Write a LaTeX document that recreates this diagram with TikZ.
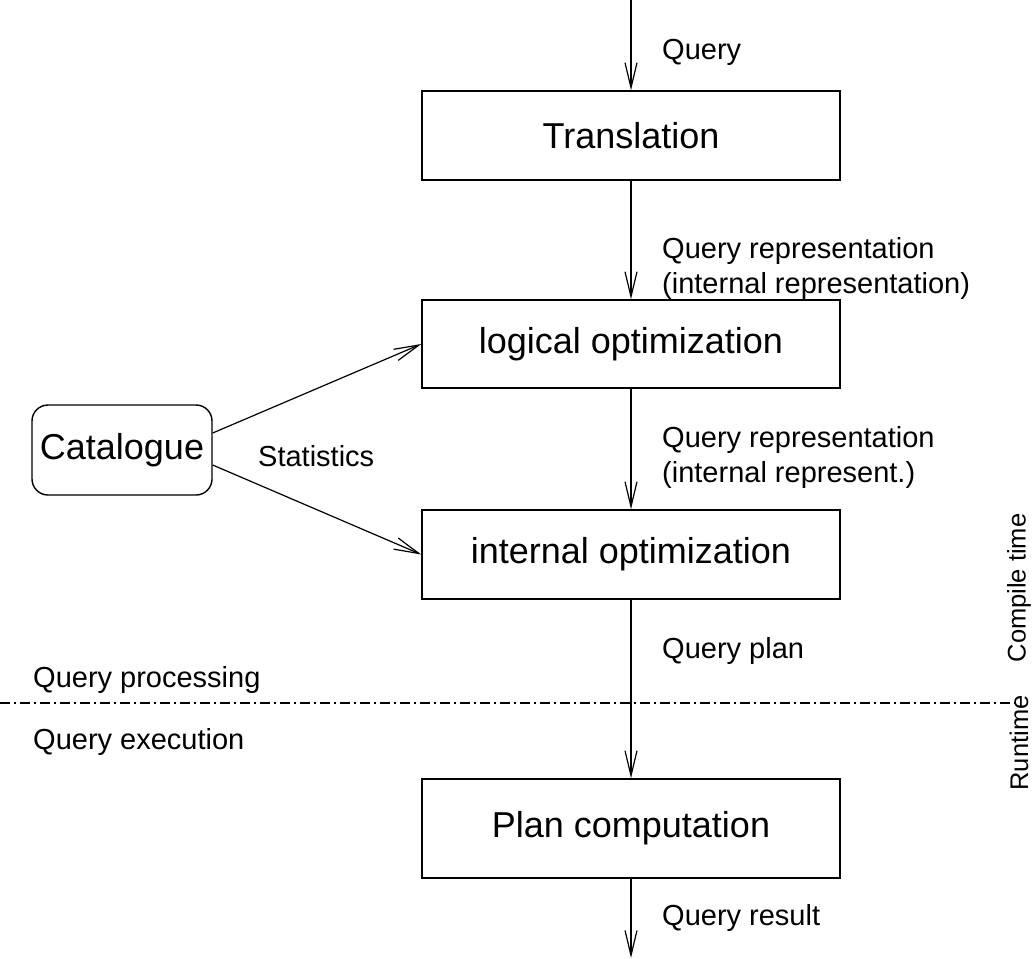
\documentclass[tikz,border=0pt]{standalone}
\usepackage{fontspec}
\setmainfont{Liberation Sans}
\usetikzlibrary{arrows.meta}
\begin{document}
\begin{tikzpicture}[x=1pt,y=-1pt,
  stagebox/.style={draw,line width=1.4pt,minimum width=418pt,inner sep=0pt,font=\fontsize{36}{40}\selectfont},
  catbox/.style={draw,line width=1.4pt,rounded corners=16pt,minimum width=180pt,minimum height=90pt,inner sep=0pt,font=\fontsize{36}{40}\selectfont},
  flow/.style={line width=1.2pt,-{Straight Barb[length=25pt,width=12pt,line width=1.2pt]}},
  lbl/.style={anchor=west,inner sep=0pt,font=\fontsize{29}{35}\selectfont},
  phase/.style={rotate=90,inner sep=0pt,font=\fontsize{25.5}{30}\selectfont},
  sep/.style={line width=1.2pt,dash pattern=on 10pt off 4pt on 2pt off 4pt}]
\useasboundingbox (0,0) rectangle (1035,958);

% processing stages
\node[stagebox,minimum height=89pt] (trans) at (631,135.5) {Translation};
\node[stagebox,minimum height=88pt] (logic) at (631,344) {logical optimization};
\node[stagebox,minimum height=89pt] (intern) at (631,554.5) {internal optimization};
\node[stagebox,minimum height=99pt] (plan) at (631,828.5) {Plan computation};
\node[catbox] (cat) at (122,450) {Catalogue};

% free ends of the main flow
\coordinate (qin) at (631,0);
\coordinate (qout) at (631,958);

% main flow
\draw[flow] (qin) -- (trans.north);
\draw[flow] (trans.south) -- (logic.north);
\draw[flow] (logic.south) -- (intern.north);
\draw[flow] (intern.south) -- (plan.north);
\draw[flow] (plan.south) -- (qout);

% statistics from the catalogue
\draw[flow] ([yshift=17pt]cat.east) -- (logic.west);
\draw[flow] ([yshift=-15pt]cat.east) -- (intern.west);

% edge labels
\node[lbl] (l1) at (662,52) {Query};
\node[lbl,align=left] (l2) at (662,268) {Query representation\\(internal representation)};
\node[lbl,align=left] (l3) at (662,457) {Query representation\\(internal represent.)};
\node[lbl] (l4) at (662,651) {Query plan};
\node[lbl] (l5) at (662,918) {Query result};
\node[lbl] (l6) at (258,456) {Statistics};

% phase separator
\coordinate (sepl) at (0,703);
\coordinate (sepr) at (1020,703);
\draw[sep] (sepl) -- (sepr);
\node[lbl] (qp) at (33,680) {Query processing};
\node[lbl] (qe) at (33,742) {Query execution};
\node[phase] (ct) at (1019,588) {Compile time};
\node[phase] (rt) at (1019,743) {Runtime};
\end{tikzpicture}
\end{document}
